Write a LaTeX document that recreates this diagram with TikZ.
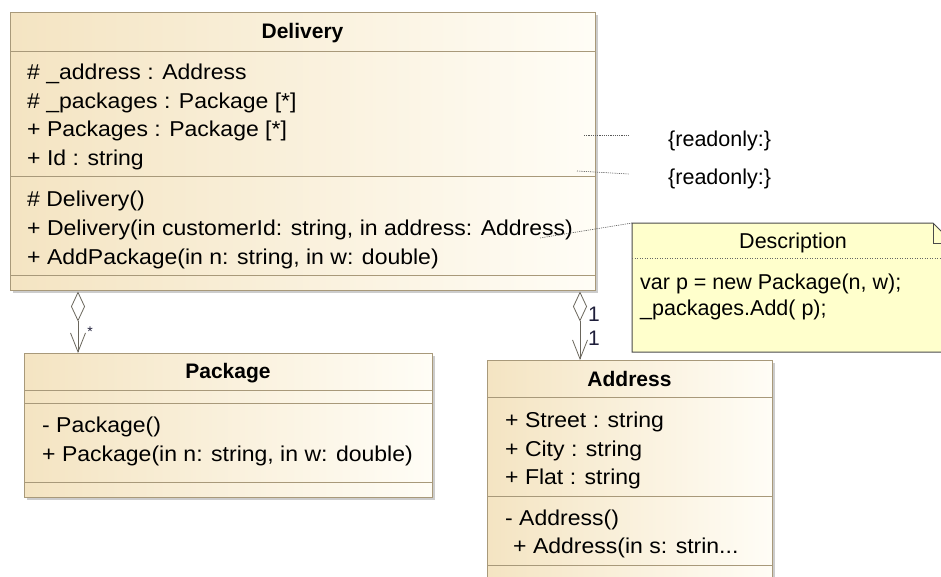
\documentclass[tikz,border=0pt]{standalone}
\usepackage{fontspec}
\setmainfont{Liberation Sans}
\newfontfamily\umlr{Liberation Sans}[FakeStretch=1.07]
\usetikzlibrary{arrows.meta}
\definecolor{boxL}{HTML}{F4E4C2}
\definecolor{boxR}{HTML}{FFFDF6}
\definecolor{boxB}{HTML}{A8997A}
\definecolor{noteF}{HTML}{FFFFCC}
\definecolor{noteB}{HTML}{4A4A4A}
\definecolor{connC}{HTML}{6A665C}
\definecolor{multC}{HTML}{1E1E3A}
\tikzset{
  cls/.style={draw=boxB, line width=0.9pt, left color=boxL, right color=boxR, inner sep=0pt, outer sep=0pt, anchor=north west},
  sepline/.style={draw=boxB, line width=0.9pt},
  shad/.style={fill=black!20},
  mem/.style={anchor=base west, inner sep=0pt, font=\umlr\fontsize{21.5}{26}\selectfont},
  ttl/.style={anchor=base, inner sep=0pt, font=\bfseries\fontsize{21}{26}\selectfont},
  ntxt/.style={anchor=base west, inner sep=0pt, font=\fontsize{21.5}{26}\selectfont},
  connline/.style={draw=connC, line width=0.8pt},
  agg/.style={connline, {Diamond[open, length=30pt, width=14pt]}-{Straight Barb[length=19pt, width=15pt]}},
  cmt/.style={draw=black!65, line width=0.6pt, dash pattern=on 1.2pt off 1pt},
  notebox/.style={draw=noteB, line width=1pt},
  mult/.style={anchor=base west, inner sep=0pt, font=\fontsize{21}{26}\selectfont, text=multC},
}
\begin{document}
\begin{tikzpicture}[x=1pt,y=-1pt]
\useasboundingbox (0,0) rectangle (941,576);
\clip (0,0) rectangle (941,576);

% ---------- Delivery ----------
\fill[shad] (13,15) rectangle (598,293);
\node[cls, minimum width=585pt, minimum height=278pt] (delivery) at (10,12) {};
\draw[sepline] (10,51) -- (595,51);
\draw[sepline] (10,176) -- (595,176);
\draw[sepline] (10,275) -- (595,275);
\node[ttl] (dT) at (302.5,38) {Delivery};
\node[mem] (d1) at (27,79.5) {\# \_address : Address};
\node[mem] (d2) at (27,108) {\# \_packages : Package [*]};
\node[mem] (d3) at (27,136.5) {+ Packages : Package [*]};
\node[mem] (d4) at (27,165) {+ Id : string};
\node[mem] (d5) at (27,206.5) {\# Delivery()};
\node[mem] (d6) at (27,235) {+ Delivery(in customerId: string, in address: Address)};
\node[mem] (d7) at (27,264) {+ AddPackage(in n: string, in w: double)};

% ---------- Package ----------
\fill[shad] (27,356) rectangle (435,500);
\node[cls, minimum width=408pt, minimum height=144pt] (package) at (24,353) {};
\draw[sepline] (24,390) -- (432,390);
\draw[sepline] (24,403) -- (432,403);
\draw[sepline] (24,482) -- (432,482);
\node[ttl] (pT) at (228,378) {Package};
\node[mem] (p1) at (42,432.5) {- Package()};
\node[mem] (p2) at (42,461.5) {+ Package(in n: string, in w: double)};

% ---------- Address ----------
\fill[shad] (490,363) rectangle (775,600);
\node[cls, minimum width=285pt, minimum height=230pt] (address) at (487,360) {};
\draw[sepline] (487,397) -- (772,397);
\draw[sepline] (487,496) -- (772,496);
\draw[sepline] (487,565) -- (772,565);
\node[ttl] (aT) at (629.5,386) {Address};
\node[mem] (a1t) at (505,427.5) {+ Street : string};
\node[mem] (a2t) at (505,456) {+ City : string};
\node[mem] (a3t) at (505,484) {+ Flat : string};
\node[mem] (a4t) at (505,525) {- Address()};
\node[mem] (a5t) at (513,553) {+ Address(in s: strin...};

% ---------- Note ----------
\node[minimum width=321pt, minimum height=129pt, inner sep=0pt, anchor=north west] (note) at (632,223) {};
\fill[noteF] (632,223) -- (933,223) -- (953,243) -- (953,352) -- (632,352) -- cycle;
\draw[notebox] (632,223) -- (933,223) -- (953,243) -- (953,352) -- (632,352) -- cycle;
\draw[notebox] (933,223) -- (933,243) -- (953,243);
\draw[draw=black!60, line width=0.6pt, dash pattern=on 1pt off 1.5pt] (632,258) -- (953,258);
\node[anchor=base, inner sep=0pt, font=\fontsize{21.5}{26}\selectfont] (nT) at (793,248) {Description};
\node[ntxt] (n1) at (640,289) {var p = new Package(n, w);};
\node[ntxt] (n2) at (640,315) {\_packages.Add( p);};

% ---------- readonly constraints ----------
\node[ntxt] (ro1) at (668,146) {\{readonly:\}};
\node[ntxt] (ro2) at (668,184) {\{readonly:\}};
\coordinate (c1a) at (584,135);
\coordinate (c1b) at (629,135);
\coordinate (c2a) at (577,171);
\coordinate (c2b) at (629,174);
\coordinate (c3) at (540,238);
\draw[cmt] (c1a) -- (c1b);
\draw[cmt] (c2a) -- (c2b);
\draw[cmt] (c3) -- (note.north west);

% ---------- associations ----------
\coordinate (s1) at (78,291.5);
\coordinate (s2) at (580,291.5);
\draw[agg] (s1) -- (s1 |- package.north);
\draw[agg] (s2) -- (s2 |- address.north);
\node[anchor=base, inner sep=0pt, font=\fontsize{14}{14}\selectfont, text=multC] (m0) at (90,336) {*};
\node[mult] (m1) at (588,321.5) {1};
\node[mult] (m2) at (588,345) {1};
\end{tikzpicture}
\end{document}
